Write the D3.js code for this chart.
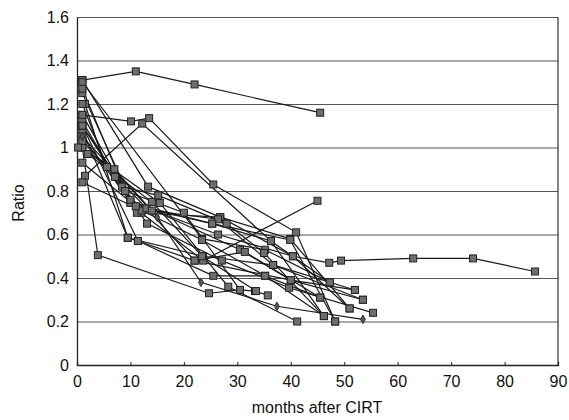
<!DOCTYPE html>
<html>
<head>
<meta charset="utf-8">
<script src="https://cdn.jsdelivr.net/npm/d3@7"></script>
<style>
  body { margin: 0; background: #fff; }
  svg text { font-family: "Liberation Sans", Arial, sans-serif; fill: #111; }
</style>
</head>
<body>
<div id="chart"></div>
<script>
// ── Data (months after CIRT, ratio) ─────────────────────────────────────────
const xTicks = [0, 10, 20, 30, 40, 50, 60, 70, 80, 90];
const yTicks = [0, 0.2, 0.4, 0.6, 0.8, 1, 1.2, 1.4, 1.6];

const seriesA = [[1, 1.31], [11, 1.35], [22, 1.29], [45.5, 1.16]];
const seriesB = [[1, 1.31], [13.3, 0.82], [26.8, 0.68], [39.9, 0.58], [51, 0.26]];
const seriesC = [[1, 1.30], [23.4, 0.58], [35.2, 0.53], [47.3, 0.38]];
const seriesD = [[1, 1.15], [10.1, 1.12], [13.5, 1.135], [25.5, 0.83], [41, 0.61], [48.3, 0.2]];
const seriesE = [[1.5, 0.87], [12.2, 1.11], [36.3, 0.57], [46.2, 0.225]];
const seriesF = [[1, 1.0], [3.9, 0.505], [24.7, 0.33], [30.5, 0.345], [33.3, 0.34], [35.7, 0.32]];
const seriesH = [[1, 1.08], [9.5, 0.585], [11.4, 0.57], [25.5, 0.41], [35.2, 0.41], [45.5, 0.31]];
const seriesI = [[1.5, 1.2], [9.5, 0.585], [23.6, 0.5], [36.7, 0.46], [52, 0.345]];
const seriesJ = [[1, 1.1], [11.4, 0.57], [22, 0.48], [40, 0.39], [53.5, 0.3]];
const seriesK = [[1, 1.05], [10, 0.75], [26.4, 0.6], [40.4, 0.5], [47.2, 0.47], [49.4, 0.48], [62.9, 0.49], [74.1, 0.49], [85.7, 0.43]];
const seriesL = [[1, 1.1], [12, 0.7], [23.6, 0.48], [45, 0.755]];
const seriesM = [[1, 1.12], [7.1, 0.865], [13.1, 0.65], [27.1, 0.48], [39.7, 0.355], [55.4, 0.24]];
const seriesN = [[1, 1.2], [5.6, 0.91], [10, 0.745], [25.3, 0.65], [36.3, 0.57], [47.3, 0.38]];
const seriesO = [[1, 1.1], [8.4, 0.82], [15.2, 0.78], [28, 0.65], [35, 0.515], [46.2, 0.225]];
const seriesP = [[1, 1.25], [11.2, 0.70], [26.8, 0.68], [40.4, 0.5], [51, 0.26]];
const seriesQ = [[1, 0.84], [12.1, 0.71], [23.4, 0.575], [35.2, 0.41], [46.2, 0.225]];
const seriesR = [[1, 1.0], [15.5, 0.745], [28.3, 0.36], [41.2, 0.2]];
const seriesS = [[1, 1.15], [10, 0.76], [30.5, 0.53], [40, 0.39], [52, 0.345]];
const seriesT = [[1, 1.03], [13, 0.72], [22, 0.48], [31.4, 0.52], [45.5, 0.31]];
const seriesU = [[0.2, 1.0], [7, 0.9], [14, 0.71], [26.4, 0.67], [36.7, 0.46], [53.5, 0.3]];
const seriesV = [[1, 0.93], [11, 0.73], [25.3, 0.65], [39.9, 0.575], [48.3, 0.2]];
const seriesW = [[2, 0.97], [14, 0.75], [23.4, 0.5], [33.5, 0.34]];
const seriesX = [[1, 1.27], [9, 0.8], [20, 0.7], [30.5, 0.345]];
// diamond-marker series
const seriesG = [[1, 1.05], [15, 0.68], [23.2, 0.38], [37.4, 0.27], [53.5, 0.21]];

const squareSeries = [seriesA, seriesB, seriesC, seriesD, seriesE, seriesF, seriesH, seriesI,
  seriesJ, seriesK, seriesL, seriesM, seriesN, seriesO, seriesP, seriesQ, seriesR, seriesS,
  seriesT, seriesU, seriesV, seriesW, seriesX];
const diamondSeries = [seriesG];

(function () {
  'use strict';

  // ── Layout ────────────────────────────────────────────────────────────────
  const W = 569, H = 420;
  const plotL = 77, plotR = 558, plotT = 17, plotB = 365;

  const svg = d3.select('#chart').append('svg')
    .attr('width', W).attr('height', H);

  const x = d3.scaleLinear().domain([0, 90]).range([plotL, plotR]);
  const y = d3.scaleLinear().domain([0, 1.6]).range([plotB, plotT]);

  // gridlines
  svg.append('g')
    .attr('transform', `translate(${plotL},0)`)
    .call(d3.axisLeft(y).tickValues(yTicks.slice(1)).tickSize(-(plotR - plotL)).tickFormat(''))
    .call(g => g.select('.domain').remove())
    .call(g => g.selectAll('.tick line').attr('stroke', '#555').attr('stroke-width', 1));

  // right border
  svg.append('line')
    .attr('x1', plotR).attr('x2', plotR).attr('y1', plotT).attr('y2', plotB)
    .attr('stroke', '#333').attr('stroke-width', 1.2);

  // x axis
  svg.append('g')
    .attr('transform', `translate(0,${plotB})`)
    .call(d3.axisBottom(x).tickValues(xTicks).tickSize(-3).tickPadding(11).tickFormat(d3.format('d')))
    .call(g => g.select('.domain').attr('stroke', '#222').attr('stroke-width', 1.3))
    .call(g => g.selectAll('.tick line').attr('stroke', '#222'))
    .call(g => g.selectAll('.tick text').attr('font-size', 16).attr('fill', '#111'));

  // y axis
  svg.append('g')
    .attr('transform', `translate(${plotL},0)`)
    .call(d3.axisLeft(y).tickValues(yTicks).tickSize(0).tickPadding(8).tickFormat(d => String(d)))
    .call(g => g.select('.domain').attr('stroke', '#222').attr('stroke-width', 1.3))
    .call(g => g.selectAll('.tick text').attr('font-size', 16).attr('fill', '#111'));

  // axis titles
  svg.append('text')
    .attr('x', 317).attr('y', 413)
    .attr('text-anchor', 'middle').attr('font-size', 16)
    .text('months after CIRT');

  svg.append('text')
    .attr('transform', 'translate(24,203) rotate(-90)')
    .attr('text-anchor', 'middle').attr('font-size', 16)
    .text('Ratio');

  // ── Series ────────────────────────────────────────────────────────────────
  const line = d3.line().x(d => x(d[0])).y(d => y(d[1]));
  const plot = svg.append('g');

  squareSeries.concat(diamondSeries).forEach(s => {
    plot.append('path')
      .attr('d', line(s))
      .attr('fill', 'none')
      .attr('stroke', '#1a1a1a')
      .attr('stroke-width', 1.2);
  });

  squareSeries.forEach(s => {
    plot.selectAll(null)
      .data(s)
      .enter()
      .append('rect')
      .attr('x', d => x(d[0]) - 3.5)
      .attr('y', d => y(d[1]) - 3.5)
      .attr('width', 7)
      .attr('height', 7)
      .attr('fill', '#6e6e6e')
      .attr('stroke', '#222')
      .attr('stroke-width', 1);
  });

  diamondSeries.forEach(s => {
    plot.selectAll(null)
      .data(s)
      .enter()
      .append('path')
      .attr('d', d3.symbol(d3.symbolDiamond, 22))
      .attr('transform', d => `translate(${x(d[0])},${y(d[1])})`)
      .attr('fill', '#555')
      .attr('stroke', '#222')
      .attr('stroke-width', 0.8);
  });
})();
</script>
</body>
</html>
